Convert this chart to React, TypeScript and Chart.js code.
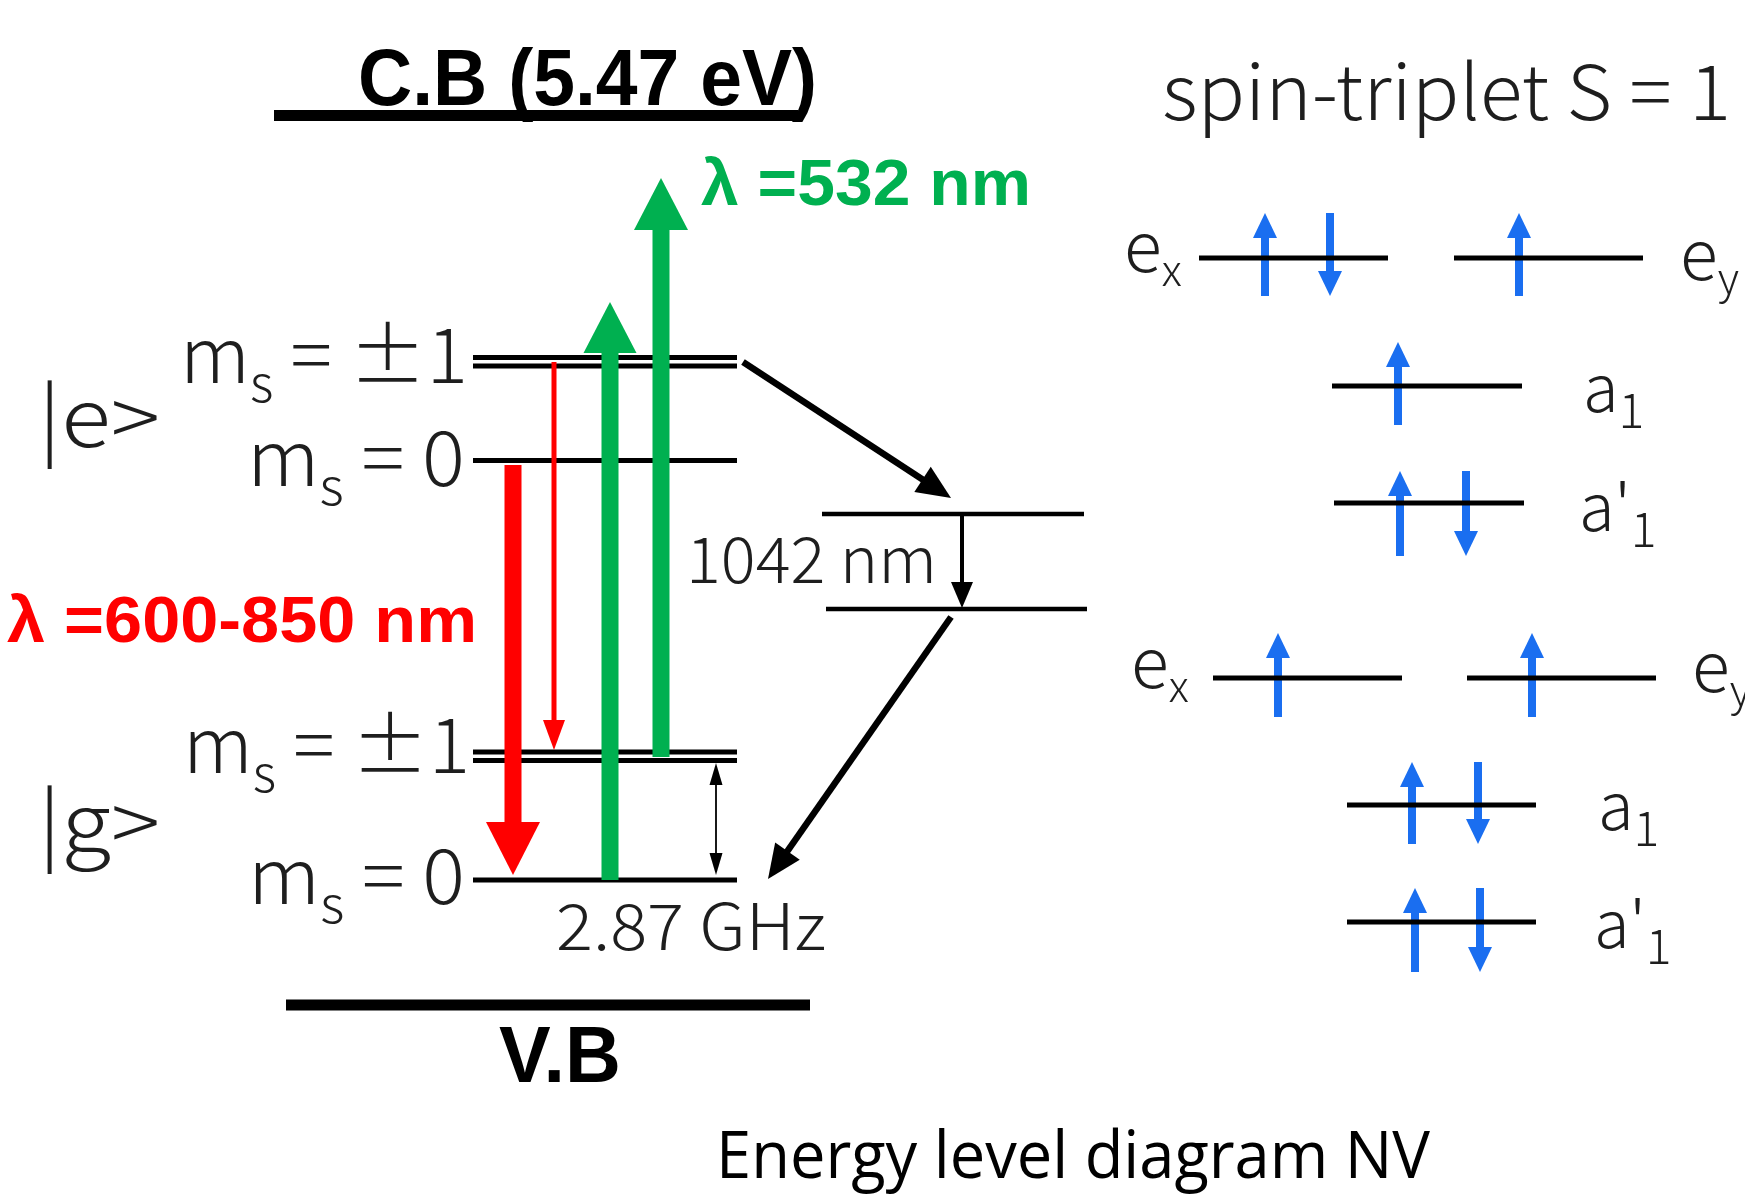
import React, { useEffect, useRef } from 'react';
import { Chart, registerables } from 'chart.js';

Chart.register(...registerables);

const CANVAS_W = 1745;
const CANVAS_H = 1195;

// ---------------- DATA (diagram units; y grows downward = lower energy) ----------------
// Bands
const bandLabels = ['C.B (5.47 eV)', 'V.B'];
const bandY = [115.5, 1005];
const bandXStart = [274, 286];
const bandXEnd = [798, 810];

// NV triplet spin sub-levels (excited |e>, ground |g>)
const subLevelLabels = ['m_s = ±1', '', 'm_s = 0', 'm_s = ±1', '', 'm_s = 0'];
const subLevelY = [357.5, 366, 460.5, 752, 760.5, 880];
const subLevelXStart = [473, 473, 473, 473, 473, 473];
const subLevelXEnd = [737, 737, 737, 737, 737, 737];
const stateLabels = ['|e>', '|g>'];

// Singlet (shelving) levels
const shelfLevelY = [514, 609];
const shelfLevelXStart = [822, 826];
const shelfLevelXEnd = [1084, 1087];

// Molecular orbitals (upper group = excited, lower group = ground)
const orbitalLabels = ['e_x', 'e_y', 'a_1', "a'_1", 'e_x', 'e_y', 'a_1', "a'_1"];
const orbitalY = [258, 258, 386, 503, 678, 678, 805, 922];
const orbitalXStart = [1199, 1454, 1332, 1334, 1213, 1467, 1347, 1347];
const orbitalXEnd = [1388, 1643, 1522, 1524, 1402, 1656, 1536, 1536];

// Electron spins on the orbitals
const spinX = [1265, 1330, 1519, 1398, 1400, 1466, 1278, 1532, 1412, 1478, 1415, 1480];
const spinYTop = [213, 213, 213, 342, 471, 471, 633, 633, 762, 762, 888, 888];
const spinYBottom = [296, 296, 296, 425, 556, 556, 717, 717, 844, 844, 972, 972];
const spinUp = [true, false, true, true, true, false, true, true, true, false, true, false];

// Transitions (from -> to)
const transitionNames = ['532 nm to C.B', '532 nm', 'PL 0', 'PL ±1', 'ISC', '1042 nm', 'ISC back', '2.87 GHz'];
const transitionX0 = [661, 610, 513, 554, 743, 962, 951, 716];
const transitionY0 = [757, 880, 465, 362, 362, 514, 617, 763];
const transitionX1 = [661, 610, 513, 554, 951, 962, 768, 716];
const transitionY1 = [178, 302, 875, 750, 498, 608, 879, 875];

// Text
const spinTitle = 'spin-triplet S = 1';
const greenLaserText = 'λ =532 nm';
const redPLText = 'λ =600-850 nm';
const singletText = '1042 nm';
const zfsText = '2.87 GHz';
const captionText = 'Energy level diagram NV';

// ---------------- STYLES ----------------
const GREEN = '#00b050';
const RED = '#ff0000';
const BLUE = '#1a6ef0';
const INK = '#000000';
const GREY = '#1e1e1e';
const CJK = '"Noto Sans CJK JP", "Noto Sans", sans-serif';
const ARIAL = '"Liberation Sans", Arial, sans-serif';
const BODY = '"Open Sans", "Noto Sans", sans-serif';

const transitionStyle = [
  { color: GREEN, shaft: 17, headLen: 52, headW: 54, both: false },
  { color: GREEN, shaft: 17, headLen: 51, headW: 53, both: false },
  { color: RED, shaft: 17, headLen: 53, headW: 54, both: false },
  { color: RED, shaft: 5, headLen: 30, headW: 22, both: false },
  { color: INK, shaft: 6.5, headLen: 34, headW: 30, both: false },
  { color: INK, shaft: 4, headLen: 26, headW: 22, both: false },
  { color: INK, shaft: 6.5, headLen: 34, headW: 30, both: false },
  { color: INK, shaft: 1.8, headLen: 22, headW: 13, both: true },
];

type Seg = { t: string; k: number; dy: number };

function parseLabel(s: string, subK: number, subDy: number): Seg[] {
  const segs: Seg[] = [];
  let buf = '';
  for (let i = 0; i < s.length; i++) {
    if (s[i] === '_' && i + 1 < s.length) {
      if (buf) segs.push({ t: buf, k: 1, dy: 0 });
      buf = '';
      segs.push({ t: s[i + 1], k: subK, dy: subDy });
      i++;
    } else buf += s[i];
  }
  if (buf) segs.push({ t: buf, k: 1, dy: 0 });
  return segs;
}

type TextItem = {
  segs: Seg[];
  x: number;
  y: number;
  size: number;
  family: string;
  weight: string;
  color: string;
  width?: number;
};

function buildTexts(): TextItem[] {
  const items: TextItem[] = [];
  const plain = (t: string) => [{ t, k: 1, dy: 0 }];
  items.push({ segs: plain(bandLabels[0]), x: 358, y: 105, size: 80, family: ARIAL, weight: 'bold', color: INK, width: 459 });
  items.push({ segs: plain(bandLabels[1]), x: 499, y: 1082, size: 80, family: ARIAL, weight: 'bold', color: INK, width: 122 });
  items.push({ segs: plain(spinTitle), x: 1162, y: 120, size: 76, family: CJK, weight: '300', color: GREY, width: 569 });
  items.push({ segs: plain(greenLaserText), x: 701, y: 205, size: 64, family: ARIAL, weight: 'bold', color: GREEN, width: 330 });
  items.push({ segs: plain(redPLText), x: 7, y: 642, size: 64, family: ARIAL, weight: 'bold', color: RED, width: 470 });
  items.push({ segs: plain(singletText), x: 686, y: 583, size: 64, family: CJK, weight: '300', color: GREY, width: 251 });
  items.push({ segs: plain(zfsText), x: 556, y: 950, size: 64, family: CJK, weight: '300', color: GREY, width: 270 });
  items.push({ segs: plain(captionText), x: 716, y: 1178, size: 66, family: BODY, weight: '400', color: INK, width: 714 });
  // sub-level labels
  const subLayout = [
    { x: 180, w: 288, y: 383 },
    null,
    { x: 247, w: 218, y: 486 },
    { x: 183, w: 287, y: 773 },
    null,
    { x: 248, w: 217, y: 904 },
  ];
  subLevelLabels.forEach((lab, i) => {
    const L = subLayout[i];
    if (!lab || !L) return;
    items.push({ segs: parseLabel(lab, 0.67, 0.25), x: L.x, y: L.y, size: 76, family: CJK, weight: '300', color: GREY, width: L.w });
  });
  const stateLayout = [
    { x: 38, w: 122, y: 447 },
    { x: 38, w: 122, y: 852 },
  ];
  stateLabels.forEach((lab, i) => {
    const L = stateLayout[i];
    items.push({ segs: plain(lab), x: L.x, y: L.y, size: 80, family: CJK, weight: '300', color: GREY, width: L.w });
  });
  const orbLayout = [
    { x: 1124, y: 272 },
    { x: 1680, y: 280 },
    { x: 1583, y: 412 },
    { x: 1579, y: 531 },
    { x: 1131, y: 688 },
    { x: 1692, y: 692 },
    { x: 1598, y: 830 },
    { x: 1594, y: 948 },
  ];
  orbitalLabels.forEach((lab, i) => {
    const L = orbLayout[i];
    const isE = lab.startsWith('e');
    items.push({
      segs: parseLabel(lab, isE ? 0.62 : 0.74, isE ? 0.2 : 0.25),
      x: L.x,
      y: L.y,
      size: isE ? 70 : 65,
      family: CJK,
      weight: '300',
      color: GREY,
    });
  });
  return items;
}

function drawRich(ctx: CanvasRenderingContext2D, it: TextItem) {
  ctx.save();
  ctx.textBaseline = 'alphabetic';
  ctx.textAlign = 'left';
  ctx.fillStyle = it.color;
  let natural = 0;
  const widths: number[] = [];
  for (const s of it.segs) {
    ctx.font = `${it.weight} ${it.size * s.k}px ${it.family}`;
    const w = ctx.measureText(s.t).width;
    widths.push(w);
    natural += w;
  }
  const sx = it.width ? it.width / natural : 1;
  ctx.translate(it.x, it.y);
  ctx.scale(sx, 1);
  let cx = 0;
  it.segs.forEach((s, i) => {
    ctx.font = `${it.weight} ${it.size * s.k}px ${it.family}`;
    ctx.fillText(s.t, cx, s.dy * it.size);
    cx += widths[i];
  });
  ctx.restore();
}

function drawHead(ctx: CanvasRenderingContext2D, x: number, y: number, ux: number, uy: number, len: number, w: number) {
  const nx = -uy, ny = ux;
  const bx = x - ux * len, by = y - uy * len;
  ctx.beginPath();
  ctx.moveTo(x, y);
  ctx.lineTo(bx + nx * w / 2, by + ny * w / 2);
  ctx.lineTo(bx - nx * w / 2, by - ny * w / 2);
  ctx.closePath();
  ctx.fill();
}

function drawArrow(ctx: CanvasRenderingContext2D, x0: number, y0: number, x1: number, y1: number, color: string, shaft: number, headLen: number, headW: number, both: boolean) {
  const dx = x1 - x0, dy = y1 - y0;
  const L = Math.hypot(dx, dy);
  const ux = dx / L, uy = dy / L;
  ctx.save();
  ctx.strokeStyle = color;
  ctx.fillStyle = color;
  ctx.lineWidth = shaft;
  ctx.lineCap = 'butt';
  const sx = both ? x0 + ux * (headLen - 1) : x0;
  const sy = both ? y0 + uy * (headLen - 1) : y0;
  ctx.beginPath();
  ctx.moveTo(sx, sy);
  ctx.lineTo(x1 - ux * (headLen - 1), y1 - uy * (headLen - 1));
  ctx.stroke();
  drawHead(ctx, x1, y1, ux, uy, headLen, headW);
  if (both) drawHead(ctx, x0, y0, -ux, -uy, headLen, headW);
  ctx.restore();
}

const diagramPlugin = {
  id: 'nvDiagram',
  beforeDatasetsDraw(chart: any) {
    const ctx: CanvasRenderingContext2D = chart.ctx;
    const xs = chart.scales.x, ys = chart.scales.y;
    spinX.forEach((sxv, i) => {
      const x = xs.getPixelForValue(sxv);
      const top = ys.getPixelForValue(spinYTop[i]);
      const bot = ys.getPixelForValue(spinYBottom[i]);
      if (spinUp[i]) drawArrow(ctx, x, bot, x, top, BLUE, 8, 25, 24, false);
      else drawArrow(ctx, x, top, x, bot, BLUE, 8, 25, 24, false);
    });
  },
  afterDatasetsDraw(chart: any) {
    const ctx: CanvasRenderingContext2D = chart.ctx;
    const xs = chart.scales.x, ys = chart.scales.y;
    transitionNames.forEach((_, i) => {
      const st = transitionStyle[i];
      drawArrow(
        ctx,
        xs.getPixelForValue(transitionX0[i]),
        ys.getPixelForValue(transitionY0[i]),
        xs.getPixelForValue(transitionX1[i]),
        ys.getPixelForValue(transitionY1[i]),
        st.color, st.shaft, st.headLen, st.headW, st.both,
      );
    });
    const texts = buildTexts();
    for (const t of texts) {
      drawRich(ctx, {
        ...t,
        x: xs.getPixelForValue(t.x),
        y: ys.getPixelForValue(t.y),
      });
    }
  },
};

function levelDataset(x0: number, x1: number, y: number, width: number) {
  return {
    data: [{ x: x0, y }, { x: x1, y }],
    showLine: true,
    borderColor: INK,
    backgroundColor: INK,
    borderWidth: width,
    borderCapStyle: 'butt' as const,
    pointRadius: 0,
    fill: false,
  };
}

export default function App() {
  const ref = useRef<HTMLCanvasElement | null>(null);
  useEffect(() => {
    document.body.style.margin = '0';
    document.body.style.overflow = 'hidden';
    const canvas = ref.current;
    if (!canvas) return;
    const datasets: any[] = [];
    bandY.forEach((y, i) => datasets.push(levelDataset(bandXStart[i], bandXEnd[i], y, 11)));
    subLevelY.forEach((y, i) => datasets.push(levelDataset(subLevelXStart[i], subLevelXEnd[i], y, 5)));
    shelfLevelY.forEach((y, i) => datasets.push(levelDataset(shelfLevelXStart[i], shelfLevelXEnd[i], y, 4.5)));
    orbitalY.forEach((y, i) => datasets.push(levelDataset(orbitalXStart[i], orbitalXEnd[i], y, 5)));
    const chart = new Chart(canvas, {
      type: 'scatter',
      data: { datasets },
      options: {
        responsive: false,
        animation: false,
        events: [],
        layout: { padding: 0 },
        plugins: {
          legend: { display: false },
          tooltip: { enabled: false },
          title: { display: false },
        },
        scales: {
          x: { type: 'linear', min: 0, max: CANVAS_W, display: false },
          y: { type: 'linear', min: 0, max: CANVAS_H, reverse: true, display: false },
        },
      },
      plugins: [diagramPlugin],
    });
    return () => chart.destroy();
  }, []);
  return (
    <div style={{ position: 'fixed', left: 0, top: 0, width: CANVAS_W, height: CANVAS_H, background: '#fff' }}>
      <canvas ref={ref} width={CANVAS_W} height={CANVAS_H} style={{ display: 'block' }} />
    </div>
  );
}
